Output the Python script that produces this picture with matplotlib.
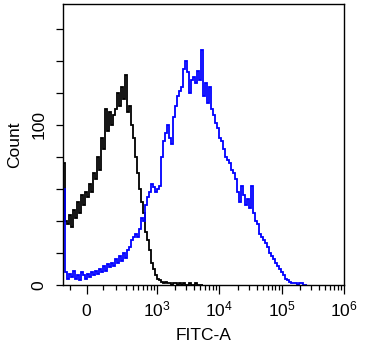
import numpy as np
import matplotlib
matplotlib.use("Agg")
import matplotlib.pyplot as plt
from matplotlib.ticker import FixedLocator, FixedFormatter, NullFormatter

plt.rcParams["font.family"] = ["Liberation Sans", "DejaVu Sans"]
plt.rcParams["mathtext.fontset"] = "custom"
plt.rcParams["mathtext.rm"] = "Liberation Sans"
plt.rcParams["mathtext.it"] = "Liberation Sans"

# Histogram channels: uniform in biexponential display units
CHANNEL_START = -0.377
CHANNEL_WIDTH = 0.032

# Unstained control (black)
control_counts = [
    76, 40, 38, 44, 36, 47, 42, 52, 45, 56, 50, 58, 55, 63, 58, 70, 66, 80, 72, 92,
    85, 110, 96, 108, 100, 106, 110, 120, 112, 124, 116, 131, 108, 112, 100, 92, 80, 70, 60, 52,
    45, 33, 28, 22, 14, 10, 6, 4, 3, 2, 1, 2, 1, 1, 0, 1, 1, 0, 1, 0,
    1, 0, 0, 1, 0, 0, 1, 0, 0, 0,
]

# FITC-stained sample (blue)
stained_counts = [
    60, 8, 4, 7, 5, 9, 4, 6, 3, 8, 6, 4, 7, 5, 8, 6, 9, 7, 10, 8,
    12, 9, 13, 11, 14, 12, 16, 14, 18, 15, 20, 17, 22, 24, 28, 30, 32, 30, 35, 42,
    40, 50, 55, 58, 63, 61, 58, 60, 62, 80, 90, 95, 100, 92, 88, 105, 112, 118, 121, 124,
    135, 140, 133, 120, 128, 130, 126, 134, 128, 147, 118, 126, 114, 124, 110, 106, 101, 98, 92, 90,
    85, 80, 78, 76, 72, 70, 66, 58, 52, 62, 56, 50, 54, 48, 62, 45, 40, 38, 32, 30,
    28, 26, 24, 20, 18, 16, 14, 12, 10, 8, 6, 4, 3, 2, 1, 1, 1, 0, 1, 1,
    0, 0,
]

y_ticks = [0, 20, 40, 60, 80, 100, 120, 140, 160]
y_tick_labels = ["0", "", "", "", "", "100", "", "", ""]
x_major = [0, 1e3, 1e4, 1e5, 1e6]
x_major_labels = ["0", r"$\mathregular{10^3}$", r"$\mathregular{10^4}$",
                  r"$\mathregular{10^5}$", r"$\mathregular{10^6}$"]
x_minor = ([-100] + [k * 100 for k in range(1, 10)] + [k * 1000 for k in range(2, 10)]
           + [k * 10000 for k in range(2, 10)] + [k * 100000 for k in range(2, 10)])

# Biexponential (arcsinh) display transform
W = 152.0


def forward(x):
    return np.arcsinh(np.asarray(x, dtype=float) / W) / np.log(10)


def inverse(p):
    return W * np.sinh(np.asarray(p, dtype=float) * np.log(10))


def channel_edges(n):
    return inverse(CHANNEL_START + CHANNEL_WIDTH * np.arange(n + 1))


fig = plt.figure(figsize=(3.79, 3.44), dpi=100)
ax = fig.add_axes([63 / 379, 59 / 344, 281 / 379, 281 / 344])
ax.set_xscale("function", functions=(forward, inverse))

ax.stairs(control_counts, channel_edges(len(control_counts)), color="black", lw=1.3, baseline=0)
ax.stairs(stained_counts, channel_edges(len(stained_counts)), color="#0000ff", lw=1.3, baseline=0)

ax.set_xlim(-150, 1e6)
ax.set_ylim(0, 175.6)

ax.xaxis.set_major_locator(FixedLocator(x_major))
ax.xaxis.set_major_formatter(FixedFormatter(x_major_labels))
ax.xaxis.set_minor_locator(FixedLocator(x_minor))
ax.xaxis.set_minor_formatter(NullFormatter())
ax.yaxis.set_major_locator(FixedLocator(y_ticks))
ax.yaxis.set_major_formatter(FixedFormatter(y_tick_labels))

ax.tick_params(axis="x", which="major", length=6.5, width=0.9, pad=16, labelsize=12.5)
ax.tick_params(axis="x", which="minor", length=3.6, width=0.9)
ax.tick_params(axis="y", which="major", length=5, width=0.9, pad=7, labelsize=12.5)
for lab in ax.get_xticklabels():
    lab.set_va("baseline")
for lab in ax.get_yticklabels():
    lab.set_rotation(90)
    lab.set_va("center")

for s in ax.spines.values():
    s.set_linewidth(1.0)

ax.set_xlabel("FITC-A", fontsize=12.5, va="baseline")
ax.xaxis.set_label_coords(0.5, -0.196)
ax.set_ylabel("Count", fontsize=12.5, va="baseline")
ax.yaxis.set_label_coords(-0.157, 0.5)

fig.savefig("out.png", dpi=100)
